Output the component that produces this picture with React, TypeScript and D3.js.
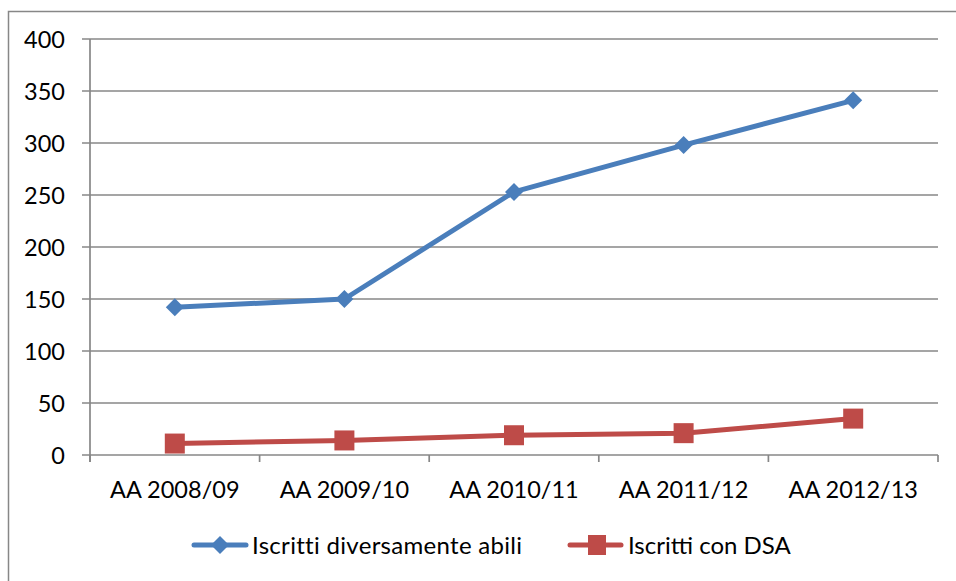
import React from 'react';
import * as d3 from 'd3';

const categories = ['AA 2008/09', 'AA 2009/10', 'AA 2010/11', 'AA 2011/12', 'AA 2012/13'];
const diversamenteAbili = [142, 150, 253, 298, 341];
const conDSA = [11, 14, 19, 21, 35];
const yTicks = [0, 50, 100, 150, 200, 250, 300, 350, 400];

const BLUE = '#4A7EBB';
const RED = '#BE4B48';
const GRID = '#878787';
const FONT = 'Lato, "Open Sans", sans-serif';

const App: React.FC = () => {
  const width = 956;
  const height = 581;
  const plot = { left: 90, right: 938, top: 39, bottom: 455 };

  const x = d3.scaleBand<string>().domain(categories).range([plot.left, plot.right]);
  const y = d3.scaleLinear().domain([0, 400]).range([plot.bottom, plot.top]);
  const cx = (c: string) => (x(c) ?? 0) + x.bandwidth() / 2;

  const line = d3.line<number>()
    .x((_, i) => cx(categories[i]))
    .y(d => y(d));

  const boundaries = [...categories.map(c => x(c) ?? 0), plot.right];

  const diamond = (px: number, py: number, r: number) =>
    `M${px},${py - r}L${px + r},${py}L${px},${py + r}L${px - r},${py}Z`;

  return (
    <svg width={width} height={height} style={{ position: 'absolute', left: 0, top: 0, background: '#fff' }}>
      {/* chart frame */}
      <rect x={8.5} y={11.5} width={960} height={600} fill="none" stroke={GRID} strokeWidth={1.5} />

      {/* gridlines */}
      {yTicks.map(t => (
        <line key={t} x1={82} x2={plot.right} y1={y(t)} y2={y(t)} stroke={GRID} strokeWidth={1.7} />
      ))}
      {/* y axis */}
      <line x1={plot.left} x2={plot.left} y1={plot.top} y2={plot.bottom + 7} stroke={GRID} strokeWidth={1.7} />
      {/* x ticks */}
      {boundaries.map((b, i) => (
        <line key={i} x1={b} x2={b} y1={plot.bottom} y2={plot.bottom + 7} stroke={GRID} strokeWidth={1.7} />
      ))}

      {/* y labels */}
      {yTicks.map(t => (
        <text key={t} x={65} y={y(t) + 9} textAnchor="end" fontFamily={FONT} fontSize={23.5} fill="#000">{t}</text>
      ))}
      {/* x labels */}
      {categories.map(c => (
        <text key={c} x={cx(c)} y={498} textAnchor="middle" fontFamily={FONT} fontSize={23.5} fill="#000">{c}</text>
      ))}

      {/* series: diversamente abili */}
      <path d={line(diversamenteAbili) ?? ''} fill="none" stroke={BLUE} strokeWidth={5} strokeLinejoin="round" />
      {diversamenteAbili.map((v, i) => (
        <path key={i} d={diamond(cx(categories[i]), y(v), 9)} fill={BLUE} />
      ))}

      {/* series: con DSA */}
      <path d={line(conDSA) ?? ''} fill="none" stroke={RED} strokeWidth={5} strokeLinejoin="round" />
      {conDSA.map((v, i) => (
        <rect key={i} x={cx(categories[i]) - 10} y={y(v) - 10} width={20} height={20} fill={RED} />
      ))}

      {/* legend */}
      <line x1={194} x2={246} y1={545} y2={545} stroke={BLUE} strokeWidth={5} strokeLinecap="round" />
      <path d={diamond(220, 545, 9)} fill={BLUE} />
      <text x={252} y={554} fontFamily={FONT} fontSize={24} letterSpacing={0.3} fill="#000">Iscritti diversamente abili</text>

      <line x1={570} x2={621} y1={545} y2={545} stroke={RED} strokeWidth={5} strokeLinecap="round" />
      <rect x={588} y={535} width={18} height={20} fill={RED} />
      <text x={628} y={554} fontFamily={FONT} fontSize={24} fill="#000">Iscritti con DSA</text>
    </svg>
  );
};

export default App;
